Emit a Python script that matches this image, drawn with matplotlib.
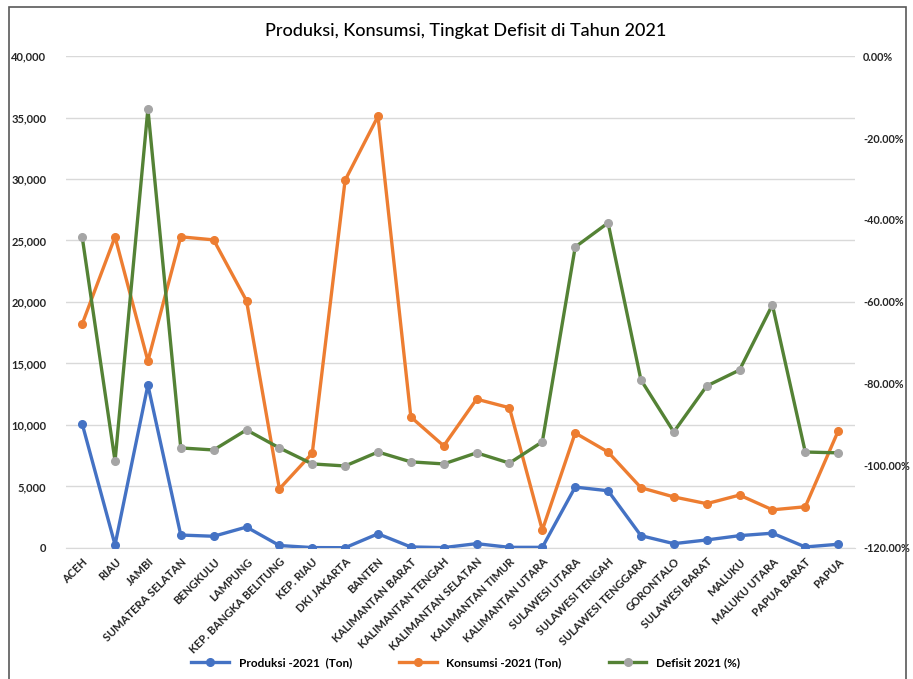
import matplotlib.pyplot as plt
from matplotlib.ticker import FuncFormatter, MultipleLocator
from matplotlib.patches import Rectangle

plt.rcParams['font.family'] = ['Lato', 'DejaVu Sans']

provinces = ['ACEH', 'RIAU', 'JAMBI', 'SUMATERA SELATAN', 'BENGKULU', 'LAMPUNG',
             'KEP. BANGKA BELITUNG', 'KEP. RIAU', 'DKI JAKARTA', 'BANTEN',
             'KALIMANTAN BARAT', 'KALIMANTAN TENGAH', 'KALIMANTAN SELATAN',
             'KALIMANTAN TIMUR', 'KALIMANTAN UTARA', 'SULAWESI UTARA',
             'SULAWESI TENGAH', 'SULAWESI TENGGARA', 'GORONTALO', 'SULAWESI BARAT',
             'MALUKU', 'MALUKU UTARA', 'PAPUA BARAT', 'PAPUA']

produksi = [10100, 250, 13250, 1050, 950, 1700, 200, 30, 20, 1150, 80, 30, 350, 50,
            50, 4950, 4650, 1000, 350, 650, 1000, 1200, 80, 300]

konsumsi = [18200, 25300, 15200, 25300, 25050, 20100, 4800, 7700, 29900, 35100,
            10650, 8300, 12100, 11400, 1450, 9350, 7800, 4900, 4150, 3600, 4300,
            3100, 3350, 9500]

defisit = [-44.1, -98.8, -12.9, -95.6, -96.1, -91.2, -95.6, -99.5, -100.0, -96.6,
           -99.0, -99.5, -96.8, -99.3, -94.1, -46.6, -40.7, -79.0, -91.7, -80.5,
           -76.6, -60.7, -96.6, -96.8]

x = list(range(len(provinces)))

fig = plt.figure(figsize=(9.13, 6.79), dpi=100)
ax = fig.add_axes([0.072, 0.193, 0.864, 0.7245])
ax2 = ax.twinx()

# outer chart border
fig.patches.append(Rectangle((0.010, -0.01), 0.982, 0.999, transform=fig.transFigure,
                             fill=False, edgecolor='#595959', linewidth=1.2))

l1, = ax.plot(x, produksi, color='#4472C4', lw=2.4, marker='o', ms=5.5,
              markerfacecolor='#4472C4', markeredgecolor='#4472C4',
              label='Produksi -2021  (Ton)', zorder=3)
l2, = ax.plot(x, konsumsi, color='#ED7D31', lw=2.4, marker='o', ms=5.5,
              markerfacecolor='#ED7D31', markeredgecolor='#ED7D31',
              label='Konsumsi -2021 (Ton)', zorder=3)
l3, = ax2.plot(x, defisit, color='#548235', lw=2.4, marker='o', ms=5.5,
               markerfacecolor='#A5A5A5', markeredgecolor='#A5A5A5',
               label='Defisit 2021 (%)', zorder=3)

ax.set_xlim(-0.5, len(provinces) - 0.5)
ax.set_ylim(0, 40000)
ax.yaxis.set_major_locator(MultipleLocator(5000))
ax.yaxis.set_major_formatter(FuncFormatter(lambda v, p: f'{v:,.0f}'))
ax2.set_ylim(-120, 0)
ax2.yaxis.set_major_locator(MultipleLocator(20))
ax2.yaxis.set_major_formatter(FuncFormatter(lambda v, p: f'{v:.2f}%'))

ax.grid(axis='y', color='#D9D9D9', lw=1)
ax.set_axisbelow(True)
for a in (ax, ax2):
    for s in a.spines.values():
        s.set_visible(False)
    a.tick_params(length=0, labelsize=8, colors='#262626')
ax.spines['bottom'].set_visible(True)
ax.spines['bottom'].set_color('#D9D9D9')
ax.tick_params(axis='y', pad=14)
ax2.tick_params(axis='y', pad=6, labelsize=7.8)
for lab in ax.get_yticklabels() + ax2.get_yticklabels():
    lab.set_fontweight('bold')

ax.set_xticks(x)
ax.set_xticklabels(provinces, rotation=45, ha='right', rotation_mode='anchor',
                   fontsize=8, fontweight='bold')
ax.tick_params(axis='x', pad=6)

fig.text(0.51, 0.955, 'Produksi, Konsumsi, Tingkat Defisit di Tahun 2021',
         ha='center', va='center', fontsize=13, color='#000000', fontweight='medium')

fig.legend(handles=[l1, l2, l3], loc='center', bbox_to_anchor=(0.51, 0.024),
           ncol=3, frameon=False, handlelength=3.2,
           columnspacing=4, prop={'weight': 'bold', 'size': 8.5})

fig.savefig('out.png', dpi=100)
